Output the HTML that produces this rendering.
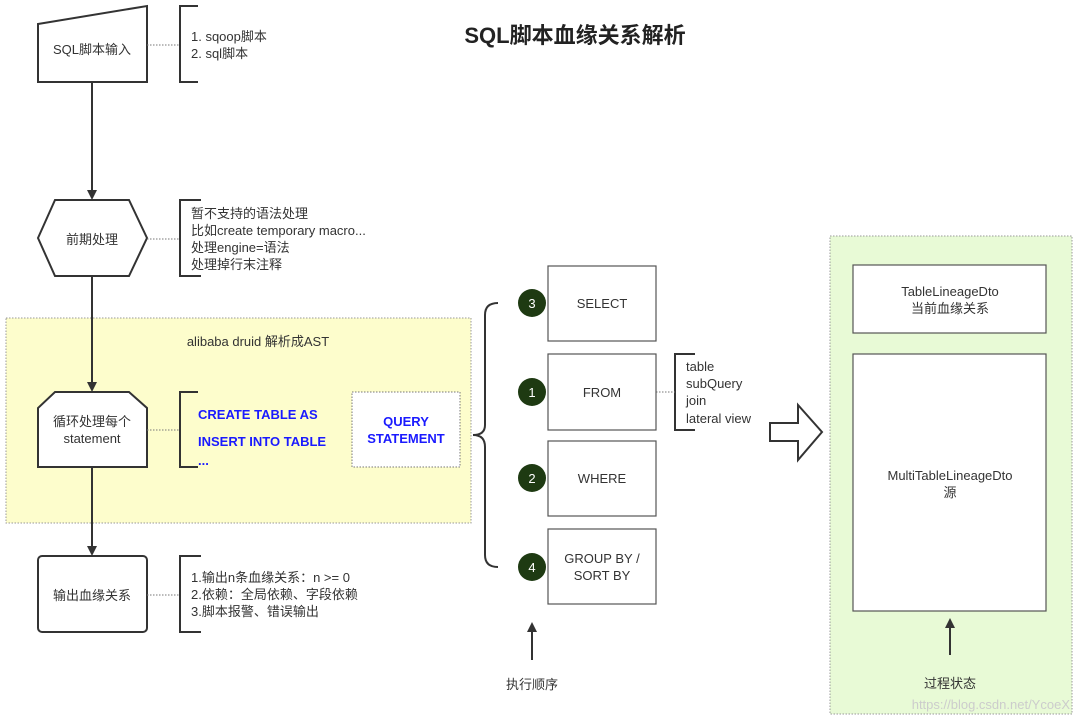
<!DOCTYPE html>
<html><head><meta charset="utf-8"><style>
body{margin:0;background:#fff;}
svg text{font-family:"Liberation Sans","Noto Sans CJK SC",sans-serif;}
</style></head><body>
<svg width="1080" height="721" viewBox="0 0 1080 721" xmlns="http://www.w3.org/2000/svg">
<defs><marker id="ah" markerWidth="10" markerHeight="10" refX="8" refY="5" orient="auto" markerUnits="userSpaceOnUse"><path d="M0,0 L10,5 L0,10 z" fill="#333"/></marker></defs>
<rect x="6" y="318" width="465" height="205" fill="#fdfdcc" stroke="#999" stroke-dasharray="1.5,1.5"/>
<rect x="830" y="236" width="242" height="478" fill="#e8fad6" stroke="#999" stroke-dasharray="1.5,1.5"/>
<text x="575" y="43" font-size="22" font-weight="bold" fill="#222" text-anchor="middle">SQL脚本血缘关系解析</text>
<g stroke="#333" stroke-width="2" fill="#fff">
<path d="M38,24 L147,6 L147,82 L38,82 Z"/>
<path d="M38,238 L55,200 L129,200 L147,238 L129,276 L55,276 Z"/>
<path d="M55,392 L129,392 L147,408 L147,467 L38,467 L38,408 Z"/>
<rect x="38" y="556" width="109" height="76" rx="4"/>
</g>
<g stroke="#333" stroke-width="2" fill="none">
<line x1="92" y1="82" x2="92" y2="198" marker-end="url(#ah)"/>
<line x1="92" y1="276" x2="92" y2="390" marker-end="url(#ah)"/>
<line x1="92" y1="467" x2="92" y2="554" marker-end="url(#ah)"/>
<path d="M198,6 H180 V82 H198"/>
<path d="M201,200 H180 V276 H201"/>
<path d="M198,392 H180 V467 H198"/>
<path d="M201,556 H180 V632 H201"/>
<path d="M695,354 H675 V430 H695" />
<path d="M498,303 Q485,303 485,315 V425 Q485,435 473,435 Q485,435 485,447 V555 Q485,567 498,567"/>
<line x1="532" y1="660" x2="532" y2="624" marker-end="url(#ah)"/>
<line x1="950" y1="655" x2="950" y2="620" marker-end="url(#ah)"/>
</g>
<g stroke="#777" stroke-dasharray="1.5,1.5" fill="none">
<line x1="147" y1="45" x2="180" y2="45"/>
<line x1="147" y1="239" x2="180" y2="239"/>
<line x1="147" y1="430" x2="180" y2="430"/>
<line x1="147" y1="595" x2="180" y2="595"/>
<line x1="656" y1="392" x2="675" y2="392"/>
<rect x="352" y="392" width="108" height="75" fill="#fff"/>
</g>
<g stroke="#555" stroke-width="1.2" fill="#fff">
<rect x="548" y="266" width="108" height="75"/>
<rect x="548" y="354" width="108" height="76"/>
<rect x="548" y="441" width="108" height="75"/>
<rect x="548" y="529" width="108" height="75"/>
<rect x="853" y="265" width="193" height="68"/>
<rect x="853" y="354" width="193" height="257"/>
</g>
<path d="M770,423 H798 V405 L822,432 L798,460 V441 H770 Z" fill="#fff" stroke="#333" stroke-width="2"/>
<g fill="#1e3a12">
<circle cx="532" cy="303" r="14"/><circle cx="532" cy="392" r="14"/>
<circle cx="532" cy="478" r="14"/><circle cx="532" cy="567" r="14"/>
</g>
<g fill="#fff" font-size="13" text-anchor="middle">
<text x="532" y="308">3</text><text x="532" y="397">1</text>
<text x="532" y="483">2</text><text x="532" y="572">4</text>
</g>
<g font-size="13" fill="#333" text-anchor="middle">
<text x="92" y="54">SQL脚本输入</text>
<text x="92" y="244">前期处理</text>
<text x="92" y="426">循环处理每个</text>
<text x="92" y="443">statement</text>
<text x="92" y="600">输出血缘关系</text>
<text x="258" y="346">alibaba druid 解析成AST</text>
<text x="602" y="308">SELECT</text>
<text x="602" y="397">FROM</text>
<text x="602" y="483">WHERE</text>
<text x="602" y="563">GROUP BY /</text>
<text x="602" y="580">SORT BY</text>
<text x="950" y="296">TableLineageDto</text>
<text x="950" y="313">当前血缘关系</text>
<text x="950" y="480">MultiTableLineageDto</text>
<text x="950" y="497">源</text>
<text x="532" y="689">执行顺序</text>
<text x="950" y="688">过程状态</text>
</g>
<g font-size="13" fill="#333">
<text x="191" y="41">1. sqoop脚本</text>
<text x="191" y="58">2. sql脚本</text>
<text x="191" y="218">暂不支持的语法处理</text>
<text x="191" y="235">比如create temporary macro...</text>
<text x="191" y="252">处理engine=语法</text>
<text x="191" y="269">处理掉行末注释</text>
<text x="191" y="582">1.输出n条血缘关系：n &gt;= 0</text>
<text x="191" y="599">2.依赖：全局依赖、字段依赖</text>
<text x="191" y="616">3.脚本报警、错误输出</text>
<text x="686" y="371">table</text>
<text x="686" y="388">subQuery</text>
<text x="686" y="405">join</text>
<text x="686" y="423">lateral view</text>
</g>
<g font-size="13" fill="#1a1aff" font-weight="bold">
<text x="198" y="419">CREATE TABLE AS</text>
<text x="198" y="446">INSERT INTO TABLE</text>
<text x="198" y="465">...</text>
<text x="406" y="426" text-anchor="middle">QUERY</text>
<text x="406" y="443" text-anchor="middle">STATEMENT</text>
</g>
<text x="1070" y="709" font-size="13" fill="#ccc" text-anchor="end">https://blog.csdn.net/YcoeX</text>
</svg>
</body></html>
